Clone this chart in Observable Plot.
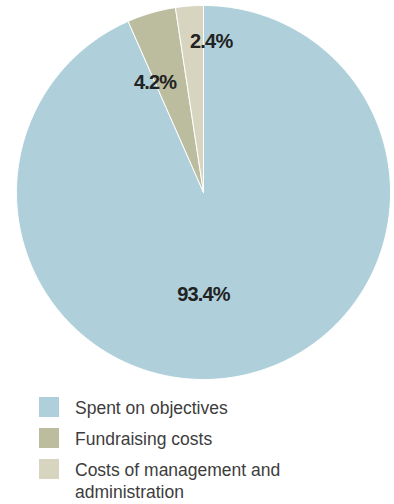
<!DOCTYPE html>
<html>
<head>
<meta charset="utf-8">
<script src="https://cdn.jsdelivr.net/npm/d3@7"></script>
<script src="https://cdn.jsdelivr.net/npm/@observablehq/plot@0.6"></script>
<style>
  body { margin: 0; background: #fff; font-family: "Liberation Sans", Arial, Helvetica, sans-serif; }
  #legend { margin: 13px 0 0 39px; color: #3d3d3d; font-size: 17.5px; }
  .row { display: flex; align-items: flex-start; margin-bottom: 9px; }
  .sw { width: 20px; height: 20px; flex: none; margin-right: 16px; }
  .lbl { line-height: 22px; margin-top: 0; }
</style>
</head>
<body>
<div id="chart"></div>
<div id="legend"></div>
<script>
const categories = ["Spent on objectives", "Fundraising costs", "Costs of management and administration"];
const values = [93.4, 4.2, 2.4];
const labels = ["93.4%", "4.2%", "2.4%"];
const colors = ["#afd0da", "#bcbc9f", "#d7d5c0"];

const pie = d3.pie().sort(null).value(d => d.value)(
  categories.map((c, i) => ({category: c, value: values[i], label: labels[i]}))
);

// polygon vertices for each slice (unit circle, angle clockwise from 12 o'clock)
const pts = [];
for (const s of pie) {
  const n = Math.max(4, Math.ceil((s.endAngle - s.startAngle) / 0.01));
  pts.push({category: s.data.category, x: 0, y: 0});
  for (let k = 0; k <= n; k++) {
    const a = s.startAngle + (s.endAngle - s.startAngle) * k / n;
    pts.push({category: s.data.category, x: Math.sin(a), y: Math.cos(a)});
  }
  pts.push({category: s.data.category, x: 0, y: 0});
}

const mid = s => (s.startAngle + s.endAngle) / 2;
const labelRadius = [0.55, 0.62, 0.8];
const labelPts = pie.map((s, i) => ({
  label: s.data.label,
  x: i === 0 ? 0 : labelRadius[i] * Math.sin(mid(s)),
  y: i === 0 ? -labelRadius[i] : labelRadius[i] * Math.cos(mid(s))
}));

const color = {domain: categories, range: colors};
const textStyle = {x: "x", y: "y", text: "label", fontSize: 20, fontWeight: "bold", fill: "#222"};

const plot = Plot.plot({
  width: 394,
  height: 384,
  marginLeft: 16,
  marginRight: 4,
  marginTop: 5,
  marginBottom: 5,
  x: {domain: [-1, 1], axis: null},
  y: {domain: [-1, 1], axis: null},
  color,
  marks: [
    Plot.line(pts, {x: "x", y: "y", z: "category", fill: "category", stroke: "white", strokeWidth: 1, curve: "linear-closed"}),
    Plot.text(labelPts.slice(0, 1), {...textStyle, dy: -1}),
    Plot.text(labelPts.slice(1, 2), {...textStyle, dx: -16, dy: 1}),
    Plot.text(labelPts.slice(2, 3), {...textStyle, dx: 19, dy: -2})
  ],
  style: {fontFamily: "'Liberation Sans', Arial, sans-serif", letterSpacing: "-0.8px"}
});
document.getElementById("chart").append(plot);

const legend = d3.select("#legend");
categories.forEach((c, i) => {
  const row = legend.append("div").attr("class", "row");
  row.append("div").attr("class", "sw").style("background", colors[i]);
  row.append("div").attr("class", "lbl").style("max-width", "240px").text(c);
});
</script>
</body>
</html>
